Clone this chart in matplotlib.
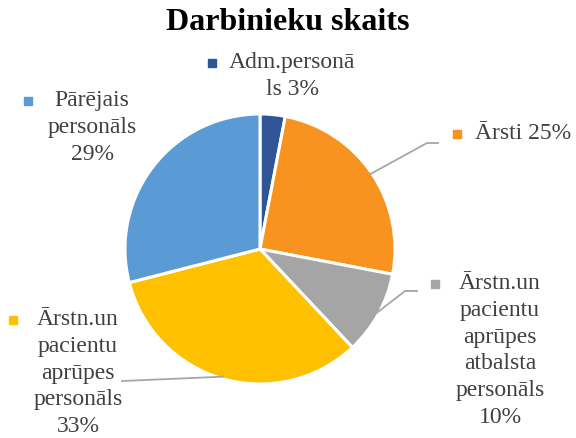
import matplotlib.pyplot as plt
import numpy as np

labels = [
    "Adm.personā\nls 3%",
    "Ārsti 25%",
    "Ārstn.un\npacientu\naprūpes\natbalsta\npersonāls\n10%",
    "Ārstn.un\npacientu\naprūpes\npersonāls\n33%",
    "Pārējais\npersonāls\n29%",
]
values = [3, 25, 10, 33, 29]
colors = ["#2F5597", "#F7931E", "#A5A5A5", "#FFC000", "#5B9BD5"]

W, H = 576, 439
# label layout in pixel coords (top-left origin): text centre x, first line y, marker x
label_pos = [(292, 64, 212), (523, 135, 457), (500, 285, 435), (78, 321, 13), (92, 102, 28)]
# leader elbows (None = no leader)
leader_pts = [None, [(427, 144), (438, 144)], [(405, 292), (417, 292)], [(122, 382)], None]

center = (260, H - 250)
radius = 135
text_color = "#404040"
font = "Liberation Serif"

fig = plt.figure(figsize=(5.76, 4.39), dpi=100)
ax = fig.add_axes([0, 0, 1, 1])

wedges, _ = ax.pie(
    values,
    colors=colors,
    startangle=90,
    counterclock=False,
    center=center,
    radius=radius,
    wedgeprops=dict(edgecolor="white", linewidth=2.2),
)
ax.set_xlim(0, W)
ax.set_ylim(0, H)
ax.set_aspect("equal")
ax.axis("off")

for w, lab, (tx, ty, mx), col, pts in zip(wedges, labels, label_pos, colors, leader_pts):
    ax.text(tx, H - ty + 12, lab, ha="center", va="top", fontsize=17, family=font,
            color=text_color, linespacing=1.36)
    ax.plot(mx, H - ty, marker="s", markersize=5.5, color=col)
    if pts:
        ang = np.deg2rad((w.theta1 + w.theta2) / 2)
        sx = center[0] + radius * 0.985 * np.cos(ang)
        sy = center[1] + radius * 0.985 * np.sin(ang)
        xs = [sx] + [p[0] for p in pts]
        ys = [sy] + [H - p[1] for p in pts]
        ax.plot(xs, ys, color="#A6A6A6", linewidth=1.3)

fig.text(0.5, 1 - 23 / H, "Darbinieku skaits", ha="center", va="center",
         fontsize=23, fontweight="bold", family=font, color="black")

fig.savefig("out.png", dpi=100)
